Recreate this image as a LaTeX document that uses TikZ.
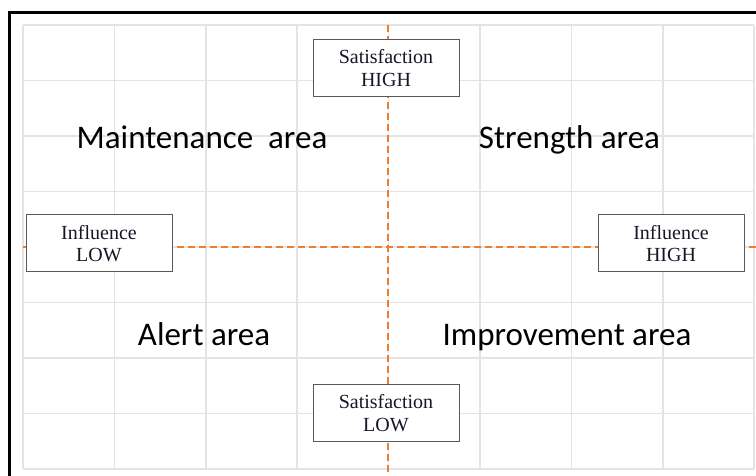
\documentclass[tikz,border=0pt]{standalone}
\usepackage{fontspec}
\setmainfont{Liberation Serif}
\newfontfamily\areafont{Carlito}
\usetikzlibrary{positioning}
\definecolor{axisorange}{RGB}{237,125,49}
\definecolor{gridgray}{RGB}{228,228,228}
\definecolor{boxtext}{RGB}{22,22,40}

\begin{document}
\begin{tikzpicture}[x=1pt,y=-1pt,
  gridline/.style={gridgray,line width=1.5pt},
  axisline/.style={axisorange,line width=2.8pt,dash pattern=on 7pt off 4pt},
  tag/.style={draw=black!65,line width=1pt,fill=white,text=boxtext,
              align=center,minimum width=146pt,minimum height=57pt,
              inner sep=2pt,font=\fontsize{20}{22.5}\selectfont},
  area/.style={font=\areafont\fontsize{33}{36}\selectfont,anchor=base}]
 \useasboundingbox (0,0) rectangle (756,476);
 % grid
 \foreach \i in {0,...,8} {
   \draw[gridline] (23+91.4*\i,25) -- (23+91.4*\i,469);
   \draw[gridline] (23,25+55.5*\i) -- (754,25+55.5*\i);
 }
 % frame
 \draw[line width=3pt] (9.5,476) -- (9.5,13) -- (756,13);
 % axis ends
 \coordinate (north) at (388,25);
 \coordinate (south) at (388,476);
 \coordinate (west) at (23,247);
 \coordinate (east) at (756,247);
 \draw[axisline] (north) -- (south);
 \draw[axisline] (west) -- (east);
 % axis tags
 \node[tag] (sathigh) at (386,68) {Satisfaction\\HIGH};
 \node[tag] (satlow) at (386,413) {Satisfaction\\LOW};
 \node[tag] (inflow) at (99,243.5) {Influence\\LOW};
 \node[tag] (infhigh) at (671,243.5) {Influence\\HIGH};
 % quadrants
 \node[area] (maintenance) at (202,149) {Maintenance\ \ area};
 \node[area] (strength) at (569.5,149) {Strength area};
 \node[area] (alert) at (204,345) {Alert area};
 \node[area] (improvement) at (567,345) {Improvement area};
\end{tikzpicture}
\end{document}
